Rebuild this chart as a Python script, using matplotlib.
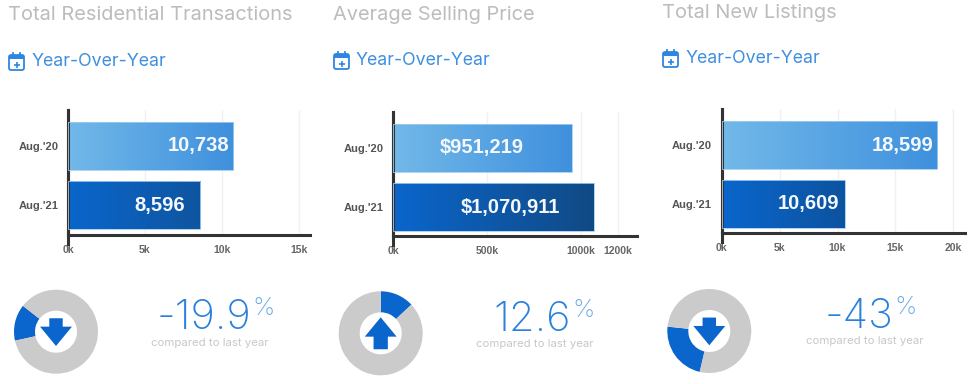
import numpy as np
import matplotlib
matplotlib.use('Agg')
import matplotlib.pyplot as plt
from matplotlib.colors import LinearSegmentedColormap
from matplotlib.patches import FancyBboxPatch, Polygon, Rectangle

# Data
titles = ['Total Residential Transactions', 'Average Selling Price', 'Total New Listings']
periods = ["Aug.'20", "Aug.'21"]
transactions = [10738, 8596]
prices = [951.219, 1070.911]
listings = [18599, 10609]
transactions_k = [v / 1000 for v in transactions]
listings_k = [v / 1000 for v in listings]
value_labels = [['10,738', '8,596'], ['$951,219', '$1,070,911'], ['18,599', '10,609']]
tick_values = [[0, 5, 10, 15], [0, 500, 1000, 1200], [0, 5, 10, 15, 20]]
changes = ['-19.9', '12.6', '-43']
donut_share = [14, 13, 23]   # blue slice as drawn, not the same as the change
donut_start = [142, 43, 174]
arrow_dirs = ['down', 'up', 'down']

W, H = 975, 384
plt.rcParams['font.family'] = ['Inter', 'DejaVu Sans']
fig = plt.figure(figsize=(W / 100, H / 100), dpi=100)


def px_axes(x0, y0, x1, y1):
    # axes from a box given in image pixels, y going down
    return fig.add_axes([x0 / W, 1 - y1 / H, (x1 - x0) / W, (y1 - y0) / H])


BLUE = '#0a66cc'
top_cmap = LinearSegmentedColormap.from_list('top', ['#72b9e9', '#3f90dd'])
bottom_ends = ['#0f55a0', '#114a85', '#0d53a0']

# panel layout, pixels
panels = [
    dict(x0=68, x1=310, top=110, base=235, px_per=15.4, labels_off=[4, 15]),
    dict(x0=393.3, x1=637, top=112, base=236, px_per=0.1874, labels_off=[48, 34]),
    dict(x0=721.7, x1=965, top=109, base=233, px_per=11.58, labels_off=[4, 5]),
]
series = [transactions_k, prices, listings_k]

for i, (p, vals) in enumerate(zip(panels, series)):
    ax = px_axes(p['x0'], p['top'], p['x1'], p['base'])
    ax.set_xlim(0, (p['x1'] - p['x0']) / p['px_per'])
    gap = 59.0
    ax.set_ylim((p['base'] - p['top'] - 36) / gap, -36 / gap)
    ax.set_facecolor('none')
    ticks = tick_values[i]
    ax.set_xticks(ticks)
    ax.set_xticklabels([f'{t}k' for t in ticks], fontsize=7.5, fontweight='bold',
                       color='#666666', family='Liberation Sans')
    ax.set_yticks([0, 1])
    ax.set_yticklabels(periods, fontsize=8, fontweight='bold', color='#555555', family='Liberation Sans')
    ax.tick_params(axis='x', length=0, pad=7)
    ax.tick_params(axis='y', length=0, pad=7)
    ax.grid(axis='x', color='#f1f1f1', lw=1)
    ax.set_axisbelow(True)
    for s in ['top', 'right']:
        ax.spines[s].set_visible(False)
    for s in ['left', 'bottom']:
        ax.spines[s].set_color('#333333')
        ax.spines[s].set_linewidth(2.2)
    ax.axvline(0, ymin=-0.07, ymax=1, color='#333333', lw=2.2, clip_on=False)

    xlim, ylim = ax.get_xlim(), ax.get_ylim()
    bars = ax.barh([0, 1], vals, height=0.81, color='none', edgecolor='#9fcdf0', linewidth=0.6, zorder=3)
    cmaps = [top_cmap, LinearSegmentedColormap.from_list('b', [BLUE, bottom_ends[i]])]
    for k, b in enumerate(bars):
        grad = np.linspace(0, 1, 256).reshape(1, -1)
        im = ax.imshow(grad, extent=[0, vals[k], b.get_y() + b.get_height(), b.get_y()],
                       cmap=cmaps[k], aspect='auto', zorder=2)
        im.set_clip_path(b)
        ax.annotate(value_labels[i][k], (vals[k], k), xytext=(-p['labels_off'][k] * 0.72, 0),
                    textcoords='offset points', ha='right', va='center', color='#f4f8fc',
                    fontsize=14.5, fontweight='bold', family='Liberation Sans', zorder=4)
    ax.set_xlim(xlim)
    ax.set_ylim(ylim)

# donuts
centres = [(56, 331.7), (380.7, 333.3), (709.3, 331)]
R = 42
for i, (cx, cy) in enumerate(centres):
    ax = px_axes(cx - R, cy - R, cx + R, cy + R)
    ax.pie([donut_share[i], 100 - donut_share[i]], colors=[BLUE, '#cbcbcb'], startangle=donut_start[i],
           radius=1, wedgeprops=dict(width=0.5, linewidth=0))
    ax.set_xlim(-1, 1)
    ax.set_ylim(-1, 1)
    if arrow_dirs[i] == 'down':
        arrow = [(-0.16, 0.32), (0.16, 0.32), (0.16, 0.12), (0.38, 0.12), (0, -0.34), (-0.38, 0.12), (-0.16, 0.12)]
    else:
        arrow = [(-0.17, -0.38), (0.17, -0.38), (0.17, -0.08), (0.38, -0.08), (0, 0.38), (-0.38, -0.08), (-0.17, -0.08)]
    ax.add_patch(Polygon(arrow, closed=True, color=BLUE, lw=0, zorder=5))

# overlay for texts and calendar icons, in pixels
ov = fig.add_axes([0, 0, 1, 1])
ov.set_xlim(0, W)
ov.set_ylim(H, 0)
ov.axis('off')

title_pos = [(8, 15), (333, 15), (662, 13)]
for t, (x, y) in zip(titles, title_pos):
    ov.text(x, y, t, fontsize=14.4, color='#bcbcbc', va='center', ha='left')

icon_pos = [(8, 53), (333, 52), (662, 50)]
for (x, y) in icon_pos:
    ov.add_patch(FancyBboxPatch((x + 1, y + 2), 15, 15, boxstyle='round,pad=0,rounding_size=2',
                                fc='white', ec='#2f86e0', lw=1.3))
    ov.add_patch(Rectangle((x + 1, y + 2), 15, 4, fc='#2f86e0', lw=0))
    ov.plot([x + 5, x + 5], [y, y + 3], color='#2f86e0', lw=1.3)
    ov.plot([x + 12, x + 12], [y, y + 3], color='#2f86e0', lw=1.3)
    ov.plot([x + 8.5], [y + 11.5], marker='+', ms=5, mew=1.2, color='#2f86e0')
    ov.text(x + 23, y + 8.5, 'Year-Over-Year', fontsize=12.8, color='#3f8fe0', va='center', ha='left')

num_pos = [(251, 329), (571, 331), (893, 328)]
cap_x = [210, 535, 865]
cap_y = [343, 344, 341]
for i, (x, y) in enumerate(num_pos):
    ov.text(x, y, changes[i], fontsize=30, color='#2a80dc', va='baseline', ha='right', fontweight='light')
    ov.text(x + 1, y - 14, '%', fontsize=18, color='#6aa8e8', va='baseline', ha='left', fontweight='light')
    ov.text(cap_x[i], cap_y[i], 'compared to last year', fontsize=8.2, color='#c8c8c8', va='center', ha='center')

fig.savefig('out.png', dpi=100)
